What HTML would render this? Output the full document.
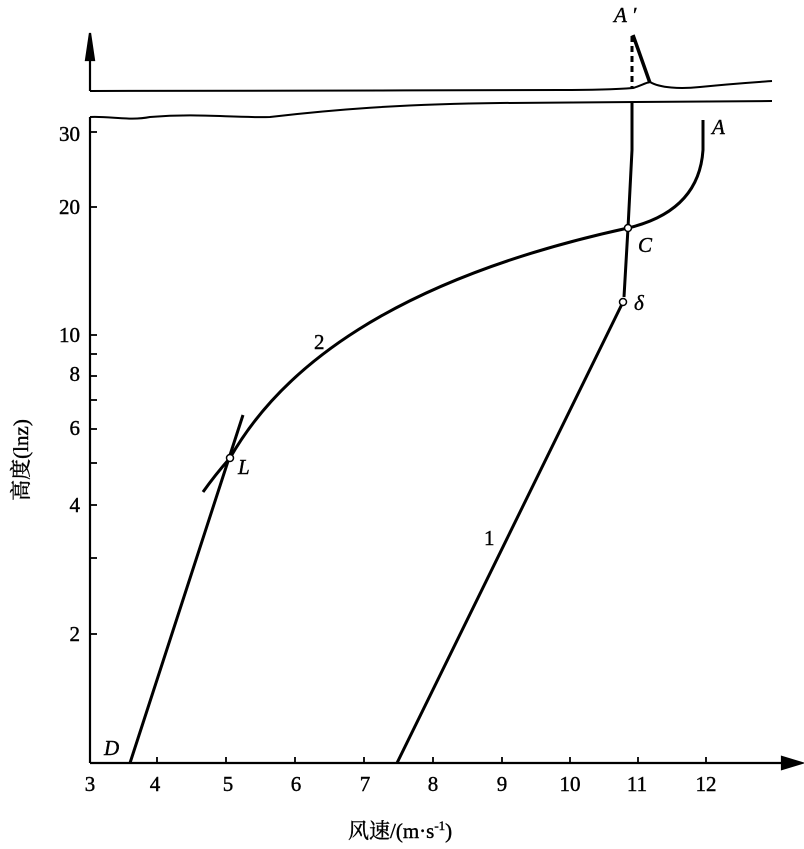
<!DOCTYPE html>
<html><head><meta charset="utf-8"><style>
body{margin:0;background:#fff}
svg text{font-family:"Liberation Serif","Noto Serif CJK SC",serif;fill:#000}
</style></head><body>
<svg width="804" height="844" viewBox="0 0 804 844" xmlns="http://www.w3.org/2000/svg">
<g stroke="#000" fill="none" stroke-width="2.2">
<line x1="90" y1="763" x2="785" y2="763"/>
<polygon points="802,763 782,757 782,769" fill="#000"/>
<line x1="90" y1="117" x2="90" y2="763"/>
<line x1="90" y1="91" x2="90" y2="45"/>
<polygon points="90,33 86,60 94,60" fill="#000"/>
<path d="M90,91 C200,92 400,90 560,90 C600,90 620,89 633,88 C640,86 645,83 650,82 C660,88 680,89 700,87 C740,83 760,82 772,81" stroke-width="2"/>
<path d="M90,117 C110,116 130,121 150,117 C200,113 230,118 270,117 C330,110 400,104 500,103 C600,103 700,102 772,101" stroke-width="2"/>
<g stroke-width="1.8">
<line x1="157" y1="763" x2="157" y2="757"/><line x1="226" y1="763" x2="226" y2="757"/>
<line x1="295" y1="763" x2="295" y2="757"/><line x1="364" y1="763" x2="364" y2="757"/>
<line x1="433" y1="763" x2="433" y2="757"/><line x1="502" y1="763" x2="502" y2="757"/>
<line x1="570" y1="763" x2="570" y2="757"/><line x1="638" y1="763" x2="638" y2="757"/>
<line x1="706" y1="763" x2="706" y2="757"/>
<line x1="90" y1="634" x2="97" y2="634"/><line x1="90" y1="558" x2="97" y2="558"/>
<line x1="90" y1="505" x2="97" y2="505"/><line x1="90" y1="463" x2="97" y2="463"/>
<line x1="90" y1="429" x2="97" y2="429"/><line x1="90" y1="400" x2="97" y2="400"/>
<line x1="90" y1="376" x2="97" y2="376"/><line x1="90" y1="354" x2="97" y2="354"/>
<line x1="90" y1="335" x2="97" y2="335"/><line x1="90" y1="207" x2="97" y2="207"/>
<line x1="90" y1="132" x2="97" y2="132"/>
</g>
<line x1="397" y1="763" x2="623" y2="302" stroke-width="3"/>
<path d="M624,297 L628,228 L632,150 L632,102" stroke-width="3"/>
<line x1="632" y1="36" x2="632" y2="88" stroke-dasharray="6,4" stroke-width="3"/>
<line x1="633" y1="35" x2="650" y2="83" stroke-width="3.5"/>
<line x1="130" y1="763" x2="243" y2="415" stroke-width="3"/>
<path d="M203,492 Q215,475 230,458 C280,370 390,280 628,228 C670,218 700,195 703,150 L703,120" stroke-width="3"/>
<circle cx="623" cy="302" r="3.5" fill="#fff" stroke-width="1.5"/>
<circle cx="628" cy="228" r="3.5" fill="#fff" stroke-width="1.5"/>
<circle cx="230" cy="458" r="3.5" fill="#fff" stroke-width="1.5"/>
</g>
<g font-size="21" stroke="#000" stroke-width="0.4">
<text x="90" y="791" text-anchor="middle">3</text><text x="155" y="791" text-anchor="middle">4</text>
<text x="228" y="791" text-anchor="middle">5</text><text x="296" y="791" text-anchor="middle">6</text>
<text x="365" y="791" text-anchor="middle">7</text><text x="433" y="791" text-anchor="middle">8</text>
<text x="502" y="791" text-anchor="middle">9</text><text x="570" y="791" text-anchor="middle">10</text>
<text x="637" y="791" text-anchor="middle">11</text><text x="706" y="791" text-anchor="middle">12</text>
<text x="80" y="141" text-anchor="end">30</text><text x="80" y="214" text-anchor="end">20</text>
<text x="80" y="342" text-anchor="end">10</text><text x="80" y="381" text-anchor="end">8</text>
<text x="80" y="435" text-anchor="end">6</text><text x="80" y="512" text-anchor="end">4</text>
<text x="80" y="641" text-anchor="end">2</text>
<text x="314" y="349">2</text><text x="484" y="545">1</text>
<text x="238" y="474" font-style="italic">L</text>
<text x="638" y="252" font-style="italic">C</text>
<text x="634" y="310" font-style="italic">δ</text>
<text x="712" y="134" font-style="italic">A</text>
<text x="614" y="22" font-style="italic">A ′</text>
<text x="104" y="755" font-style="italic">D</text>
<text x="348" y="838">风速/(m·s<tspan font-size="13" dy="-8">-1</tspan><tspan dy="8">)</tspan></text>
<text transform="translate(28,460) rotate(-90)" text-anchor="middle">高度(lnz)</text>
</g>
</svg>
</body></html>
